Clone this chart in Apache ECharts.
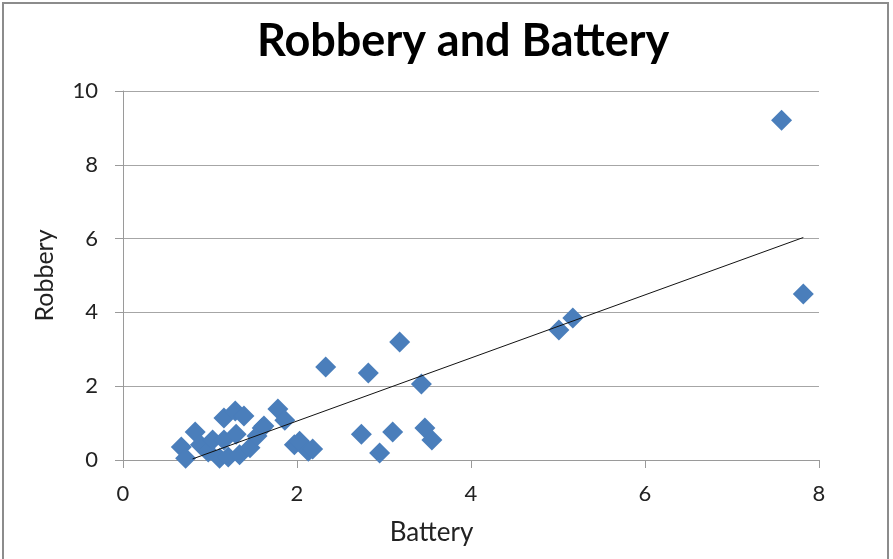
<!DOCTYPE html>
<html>
<head>
<meta charset="utf-8">
<script src="https://cdn.jsdelivr.net/npm/echarts@6/dist/echarts.min.js"></script>
<style>
html,body{margin:0;padding:0;background:#fff;}
#chart{width:893px;height:559px;}
</style>
</head>
<body>
<div id="chart"></div>
<script>
// Data
const batteryValues = [
  7.57, 7.82, 5.01, 5.17, 3.18, 3.43, 2.33, 2.82, 3.47, 3.55,
  3.10, 2.74, 2.95, 1.78, 1.86, 1.60, 1.97, 2.03, 2.13, 2.18,
  0.67, 0.72, 0.83, 0.89, 0.98, 1.03, 1.11, 1.16, 1.29, 1.39,
  1.16, 1.30, 1.21, 1.34, 1.46, 1.54, 1.62
];
const robberyValues = [
  9.21, 4.50, 3.52, 3.85, 3.20, 2.06, 2.52, 2.36, 0.87, 0.54,
  0.76, 0.70, 0.19, 1.38, 1.08, 0.87, 0.41, 0.51, 0.24, 0.30,
  0.35, 0.05, 0.76, 0.41, 0.22, 0.54, 0.05, 1.14, 1.33, 1.19,
  0.54, 0.70, 0.08, 0.14, 0.33, 0.65, 0.92
];
const trendX = [0.80, 7.82];
const trendY = [0.03, 6.03];
const xTicks = [0, 2, 4, 6, 8];
const yTicks = [0, 2, 4, 6, 8, 10];
const titleText = 'Robbery and Battery';
const xName = 'Battery';
const yName = 'Robbery';

const chart = echarts.init(document.getElementById('chart'), null, {renderer: 'canvas'});
const points = batteryValues.map((x, i) => [x, robberyValues[i]]);
const trend = trendX.map((x, i) => [x, trendY[i]]);
const fontFam = 'Lato, "Open Sans", sans-serif';

chart.setOption({
  animation: false,
  backgroundColor: '#fff',
  graphic: [{
    type: 'rect',
    shape: {x: 3, y: 3, width: 885, height: 570},
    style: {fill: 'none', stroke: '#8c8c8c', lineWidth: 2},
    silent: true
  }],
  title: {
    text: titleText,
    left: 252,
    top: 14,
    textStyle: {fontFamily: fontFam, fontWeight: 'bold', fontSize: 45, color: '#000'}
  },
  grid: {left: 123, right: 74, top: 91, bottom: 99, containLabel: false},
  xAxis: {
    type: 'value',
    min: xTicks[0], max: xTicks[xTicks.length - 1], interval: 2,
    name: xName, nameLocation: 'middle', nameGap: 60,
    nameTextStyle: {fontFamily: fontFam, fontSize: 26, color: '#222', padding: [0, 79, 0, 0]},
    axisLine: {show: true, lineStyle: {color: '#9a9a9a', width: 1}},
    axisTick: {show: true, inside: false, length: 8, lineStyle: {color: '#9a9a9a'}},
    axisLabel: {fontFamily: fontFam, fontSize: 22, color: '#222', margin: 23},
    splitLine: {show: false}
  },
  yAxis: {
    type: 'value',
    min: yTicks[0], max: yTicks[yTicks.length - 1], interval: 2,
    name: yName, nameLocation: 'middle', nameGap: 66, nameRotate: 90,
    nameTextStyle: {fontFamily: fontFam, fontSize: 25, color: '#222'},
    axisLine: {show: true, lineStyle: {color: '#9a9a9a', width: 1}},
    axisTick: {show: true, inside: false, length: 8, lineStyle: {color: '#9a9a9a'}},
    axisLabel: {fontFamily: fontFam, fontSize: 22, color: '#222', margin: 25},
    splitLine: {show: true, lineStyle: {color: '#a6a6a6', width: 1}}
  },
  series: [
    {
      type: 'scatter',
      data: points,
      symbol: 'diamond',
      symbolSize: 21,
      itemStyle: {color: '#4a7ebb', opacity: 1},
      z: 2
    },
    {
      type: 'line',
      data: trend,
      symbol: 'none',
      lineStyle: {color: '#111', width: 1},
      z: 3
    }
  ]
});
</script>
</body>
</html>
